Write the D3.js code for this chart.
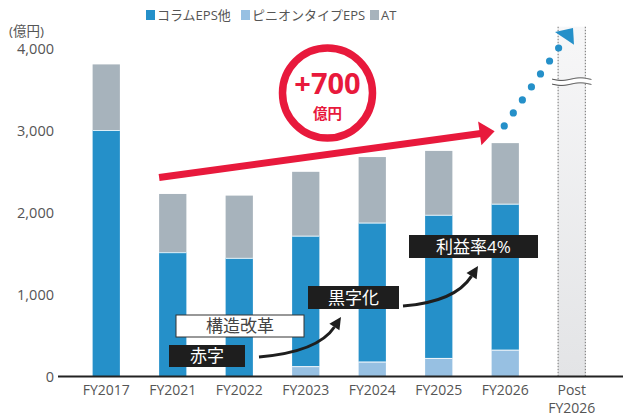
<!DOCTYPE html>
<html>
<head>
<meta charset="utf-8">
<script src="https://cdn.jsdelivr.net/npm/d3@7"></script>
<style>
  body { margin: 0; background: #fff; }
  svg text { font-family: "Open Sans", "Noto Sans CJK JP", sans-serif; }
</style>
</head>
<body>
<div class="canvas"></div>
<script>
// data (億円)
const categories = ['FY2017', 'FY2021', 'FY2022', 'FY2023', 'FY2024', 'FY2025', 'FY2026', 'Post FY2026'];
const columnEps = [3000, 1510, 1440, 1590, 1695, 1745, 1780];
const pinionEps = [0, 0, 0, 120, 175, 220, 320];
const atValues = [800, 710, 760, 780, 800, 780, 740];
const yTicks = [0, 1000, 2000, 3000, 4000];
const seriesNames = ['コラムEPS他', 'ピニオンタイプEPS', 'AT'];
const seriesColors = ['#2590c9', '#97c0e2', '#a7b3bc'];

const width = 623, height = 413;

const svg = d3.select('.canvas').append('svg')
  .attr('width', width).attr('height', height);

const x = d3.scaleBand()
  .domain(categories)
  .range([73, 605])
  .paddingInner(0.59)
  .paddingOuter(0.295);

const y = d3.scaleLinear().domain([0, 4000]).range([376, 48]);

// stacked data: pinion at bottom, then column, then AT
const rows = categories.slice(0, 7).map((c, i) => ({
  cat: c, pinion: pinionEps[i], column: columnEps[i], at: atValues[i]
}));
const stack = d3.stack().keys(['pinion', 'column', 'at']);
const layers = stack(rows);
const colorOf = {pinion: seriesColors[1], column: seriesColors[0], at: seriesColors[2]};

// post FY2026 shaded column
const defs = svg.append('defs');
const grad = defs.append('linearGradient').attr('id', 'postGrad')
  .attr('x1', 0).attr('y1', 0).attr('x2', 0).attr('y2', 1);
grad.append('stop').attr('offset', '0%').attr('stop-color', '#f7f7f8');
grad.append('stop').attr('offset', '100%').attr('stop-color', '#e3e4e6');

const postX = x('Post FY2026');
svg.append('rect')
  .attr('x', postX).attr('y', y(4260))
  .attr('width', x.bandwidth()).attr('height', y(0) - y(4260))
  .attr('fill', 'url(#postGrad)');
[postX, postX + x.bandwidth()].forEach(px => {
  svg.append('line')
    .attr('x1', px).attr('x2', px)
    .attr('y1', y(4260)).attr('y2', y(0))
    .attr('stroke', '#888').attr('stroke-width', 1.2)
    .attr('stroke-dasharray', '1.5,1.5');
});

// wavy break
const waveX0 = postX - 6, waveX1 = postX + x.bandwidth() + 6;
const wave = (yy, dir) => {
  const pts = d3.range(0, 41).map(k => {
    const xx = waveX0 + (waveX1 - waveX0) * k / 40;
    return [xx, yy + 1.3 * Math.sin((xx - waveX0) / 6)];
  });
  return dir > 0 ? pts : pts.reverse();
};
const yBreak = y(3590);
const waveTop = wave(yBreak - 2.5, 1), waveBottom = wave(yBreak + 2.5, -1);
svg.append('path')
  .attr('d', d3.line()(waveTop.concat(waveBottom)) + 'Z')
  .attr('fill', '#fff').attr('stroke', 'none');
[waveTop, waveBottom].forEach(p => {
  svg.append('path').attr('d', d3.line()(p))
    .attr('fill', 'none').attr('stroke', '#444').attr('stroke-width', 1);
});

// bars
layers.forEach(layer => {
  svg.append('g').selectAll('rect')
    .data(layer.filter(d => d[1] > d[0]))
    .join('rect')
      .attr('x', d => x(d.data.cat))
      .attr('y', d => y(d[1]))
      .attr('width', x.bandwidth())
      .attr('height', d => y(d[0]) - y(d[1]))
      .attr('fill', colorOf[layer.key]);
});
// thin white separators
layers.slice(0, 2).forEach(layer => {
  svg.append('g').selectAll('line')
    .data(layer.filter(d => d[1] > d[0]))
    .join('line')
      .attr('x1', d => x(d.data.cat)).attr('x2', d => x(d.data.cat) + x.bandwidth())
      .attr('y1', d => y(d[1]) + 0.5).attr('y2', d => y(d[1]) + 0.5)
      .attr('stroke', '#fff').attr('stroke-width', 1).attr('opacity', 0.85);
});

// axes
const yAxis = d3.axisLeft(y).tickValues(yTicks).tickSize(0).tickPadding(0)
  .tickFormat(d3.format(','));
const gy = svg.append('g').attr('transform', 'translate(54,0)').call(yAxis);
gy.select('.domain').remove();
gy.selectAll('text').attr('font-size', 14.5).attr('fill', '#555').attr('dy', '0.35em')
  .attr('font-family', '"Open Sans", sans-serif');

svg.append('line')
  .attr('x1', 58).attr('x2', width).attr('y1', y(0) + 0.5).attr('y2', y(0) + 0.5)
  .attr('stroke', '#222').attr('stroke-width', 2);

const xLabels = svg.append('g').selectAll('text')
  .data(categories)
  .join('text')
    .attr('x', d => x(d) + x.bandwidth() / 2)
    .attr('y', 395)
    .attr('text-anchor', 'middle')
    .attr('font-size', 14)
    .attr('fill', '#555');
xLabels.each(function(d) {
  const t = d3.select(this);
  const parts = d.split(' ');
  parts.forEach((p, i) => {
    t.append('tspan').attr('x', x(d) + x.bandwidth() / 2).attr('dy', i === 0 ? 0 : 18).text(p);
  });
});

svg.append('text').attr('x', 9).attr('y', 36)
  .attr('font-size', 13.5).attr('fill', '#555').text('(億円)');

// legend
const legendItems = [
  {name: seriesNames[0], color: seriesColors[0], x: 146},
  {name: seriesNames[1], color: seriesColors[1], x: 241},
  {name: seriesNames[2], color: seriesColors[2], x: 370}
];
const lg = svg.append('g');
legendItems.forEach(it => {
  lg.append('rect').attr('x', it.x).attr('y', 10).attr('width', 9).attr('height', 10).attr('fill', it.color);
  lg.append('text').attr('x', it.x + 11).attr('y', 20)
    .attr('font-size', 13).attr('fill', '#555').text(it.name);
});

// red growth arrow
const red = '#e8193c';
const ax0 = x('FY2021'), ay0 = y(2420);
const ax1 = x('FY2026') + 3, ay1 = y(2985);
const ang = Math.atan2(ay1 - ay0, ax1 - ax0);
const headLen = 15, headW = 12;
const bx = ax1 - headLen * Math.cos(ang), by = ay1 - headLen * Math.sin(ang);
svg.append('line')
  .attr('x1', ax0).attr('y1', ay0).attr('x2', bx + 1).attr('y2', by + 0.15)
  .attr('stroke', red).attr('stroke-width', 7);
svg.append('path')
  .attr('d', d3.line()([
    [ax1, ay1],
    [bx + headW * Math.sin(ang), by - headW * Math.cos(ang)],
    [bx - headW * Math.sin(ang), by + headW * Math.cos(ang)]
  ]) + 'Z')
  .attr('fill', red);

// +700 circle
const cx = 327.5, cy = 93;
svg.append('circle').attr('cx', cx).attr('cy', cy).attr('r', 45)
  .attr('fill', '#fff').attr('stroke', red).attr('stroke-width', 7.5);
svg.append('text').attr('x', cx).attr('y', 94)
  .attr('text-anchor', 'middle').attr('font-size', 29).attr('font-weight', 700)
  .attr('fill', red).attr('font-family', '"Open Sans", sans-serif')
  .text('+700');
svg.append('text').attr('x', cx).attr('y', 119)
  .attr('text-anchor', 'middle').attr('font-size', 14.5).attr('font-weight', 700)
  .attr('fill', red).attr('font-family', '"Noto Sans CJK JP", sans-serif').text('億円');

// blue dotted arrow
const blue = '#2590c9';
const d0 = [x('FY2026') + x.bandwidth() / 2 - 1, y(3050)];
const d1 = [postX + 0.5, y(4000)];
const nDots = 7;
svg.append('g').selectAll('circle')
  .data(d3.range(nDots))
  .join('circle')
    .attr('cx', k => d0[0] + (d1[0] - d0[0]) * k / (nDots - 1))
    .attr('cy', k => d0[1] + (d1[1] - d0[1]) * k / (nDots - 1))
    .attr('r', 3.6)
    .attr('fill', blue);
svg.append('path')
  .attr('d', d3.line()([[555, y(4195)], [573, y(4245)], [574, y(4040)]]) + 'Z')
  .attr('fill', blue);

// annotation boxes
const boxes = [
  {text: '利益率4%', x: 409, y: 235, w: 129, h: 23, dark: true},
  {text: '黒字化', x: 308, y: 286, w: 91, h: 23, dark: true},
  {text: '構造改革', x: 176, y: 315, w: 128, h: 22, dark: false},
  {text: '赤字', x: 169, y: 345, w: 76, h: 22, dark: true}
];
boxes.forEach(b => {
  svg.append('rect').attr('x', b.x).attr('y', b.y).attr('width', b.w).attr('height', b.h)
    .attr('fill', b.dark ? '#1e1e1e' : '#fff')
    .attr('stroke', b.dark ? 'none' : '#333').attr('stroke-width', 1);
  svg.append('text').attr('x', b.x + b.w / 2).attr('y', b.y + b.h / 2 + 6)
    .attr('text-anchor', 'middle').attr('font-size', 17)
    .attr('font-family', '"Noto Sans CJK JP", sans-serif')
    .attr('fill', b.dark ? '#fff' : '#444').text(b.text);
});

// curved black arrows
const curves = [
  {from: [259, 357], ctrl: [318, 352], to: [341, 317]},
  {from: [403, 306], ctrl: [455, 302], to: [478, 266]}
];
curves.forEach(c => {
  const tAng = Math.atan2(c.to[1] - c.ctrl[1], c.to[0] - c.ctrl[0]);
  const hl = 12, hw = 6;
  const b2 = [c.to[0] - hl * Math.cos(tAng), c.to[1] - hl * Math.sin(tAng)];
  const p = d3.path();
  p.moveTo(c.from[0], c.from[1]);
  p.quadraticCurveTo(c.ctrl[0], c.ctrl[1], b2[0], b2[1]);
  svg.append('path').attr('d', p.toString())
    .attr('fill', 'none').attr('stroke', '#1e1e1e').attr('stroke-width', 3);
  svg.append('path')
    .attr('d', d3.line()([
      c.to,
      [b2[0] + hw * Math.sin(tAng), b2[1] - hw * Math.cos(tAng)],
      [b2[0] - hw * Math.sin(tAng), b2[1] + hw * Math.cos(tAng)]
    ]) + 'Z')
    .attr('fill', '#1e1e1e');
});
</script>
</body>
</html>
